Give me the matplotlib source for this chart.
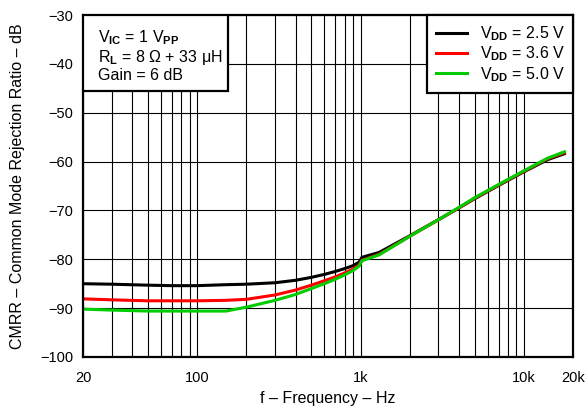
#!/usr/bin/env python3
"""CMRR vs frequency for three supply voltages (log f axis)."""
import matplotlib
matplotlib.use("Agg")
import matplotlib.pyplot as plt
from matplotlib.patches import Rectangle

plt.rcParams["font.family"] = ["Liberation Sans", "DejaVu Sans"]
plt.rcParams["mathtext.fontset"] = "custom"
plt.rcParams["mathtext.rm"] = "Liberation Sans"
plt.rcParams["mathtext.bf"] = "Liberation Sans:bold"

# frequency points (Hz) and CMRR (dB)
freq = [20, 30, 50, 70, 100, 150, 200, 300, 400, 500, 600, 700, 800, 900,
        980, 1020, 1300, 2000, 3000, 4000, 5000, 7000, 10000, 14000, 17700]
cmrr_25 = [-85.0, -85.1, -85.3, -85.4, -85.4, -85.2, -85.1, -84.8, -84.3,
           -83.7, -83.1, -82.5, -81.9, -81.3, -80.6, -79.6, -78.6, -75.2,
           -71.9, -69.5, -67.6, -64.9, -62.1, -59.6, -58.4]
cmrr_36 = [-88.1, -88.3, -88.5, -88.5, -88.5, -88.4, -88.2, -87.3, -86.3,
           -85.3, -84.4, -83.6, -82.8, -82.0, -81.2, -80.2, -79.0, -75.3,
           -71.9, -69.5, -67.5, -64.8, -62.0, -59.4, -58.2]
cmrr_50 = [-90.2, -90.4, -90.6, -90.6, -90.6, -90.6, -89.8, -88.4, -87.2,
           -86.0, -85.0, -84.1, -83.2, -82.3, -81.4, -80.3, -79.1, -75.3,
           -71.9, -69.4, -67.4, -64.7, -61.9, -59.3, -58.0]

xticks = [20, 100, 1000, 10000, 20000]
xtick_labels = ["20", "100", "1k", "10k", "20k"]
yticks = [-100, -90, -80, -70, -60, -50, -40, -30]

fig = plt.figure(figsize=(5.88, 4.11), dpi=100)
ax = fig.add_axes([0.1412, 0.1314, 0.8333, 0.8321])

ax.set_xscale("log")
ax.set_xlim(20, 20000)
ax.set_ylim(-100, -30)

ax.grid(True, which="major", color="k", lw=0.8)
ax.grid(True, which="minor", axis="x", color="k", lw=0.8)

ax.plot(freq, cmrr_25, color="black", lw=2.2, label=r"V$_{\mathbf{DD}}$ = 2.5 V")
ax.plot(freq, cmrr_36, color="#ff0000", lw=2.2, label=r"V$_{\mathbf{DD}}$ = 3.6 V")
ax.plot(freq, cmrr_50, color="#00cc00", lw=2.2, label=r"V$_{\mathbf{DD}}$ = 5.0 V")

ax.set_xticks(xticks)
ax.set_xticklabels(xtick_labels)
ax.set_yticks(yticks)
ax.set_yticklabels([f"\u2212{abs(v)}" for v in yticks])
ax.tick_params(which="both", length=0, labelsize=10.5)
ax.tick_params(axis="x", pad=10)
ax.tick_params(axis="y", pad=7)
for s in ax.spines.values():
    s.set_linewidth(1.6)

fig.text(0.558, 0.0195, "f \u2013 Frequency \u2013 Hz", fontsize=11.5,
         ha="center", va="baseline")
fig.text(0.029, 0.5474, "CMRR \u2013 Common Mode Rejection Ratio \u2013 dB",
         fontsize=11.5, rotation=90, ha="center", va="center")

# conditions box, upper left
ax.add_patch(Rectangle((0, 0.778), 0.296, 0.222, transform=ax.transAxes,
                       facecolor="white", edgecolor="black", lw=1.6, zorder=5))
ax.text(0.030, 0.962,
        "V$_{\\mathbf{IC}}$ = 1 V$_{\\mathbf{PP}}$\n"
        "R$_{\\mathbf{L}}$ = 8 \u03a9 + 33 \u03bcH\n"
        "Gain = 6 dB",
        transform=ax.transAxes, va="top", ha="left", fontsize=11.5,
        linespacing=1.1, zorder=6)

leg = ax.legend(loc="upper right", bbox_to_anchor=(0.702, 0.778, 0.298, 0.222),
                mode="expand", borderaxespad=0, fancybox=False,
                edgecolor="black", framealpha=1, fontsize=11.5,
                handlelength=1.95, handletextpad=0.8, labelspacing=0.1,
                borderpad=0.58)
leg.get_frame().set_linewidth(1.6)
leg.set_zorder(6)

fig.savefig("out.png", dpi=100)
